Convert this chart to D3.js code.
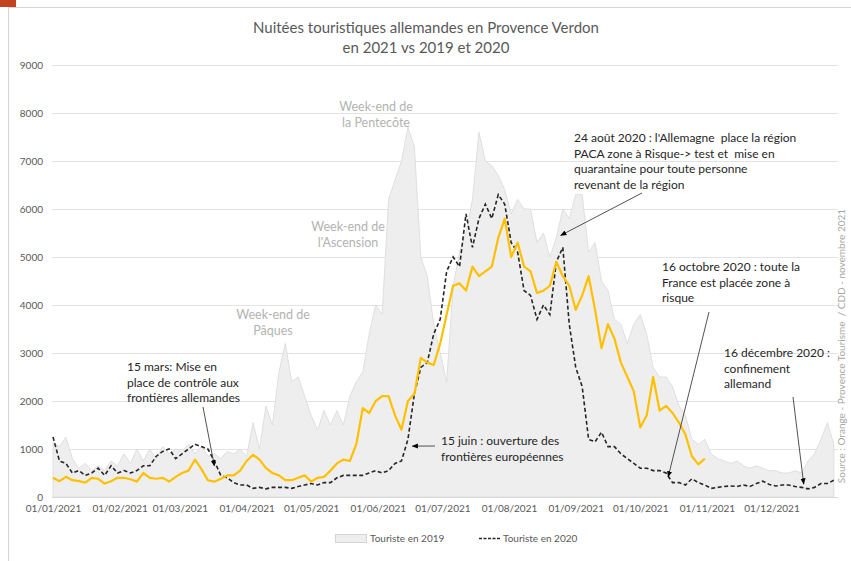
<!DOCTYPE html>
<html lang="fr">
<head>
<meta charset="utf-8">
<title>Nuitées touristiques allemandes en Provence Verdon</title>
<script src="https://cdn.jsdelivr.net/npm/d3@7"></script>
<style>
  body { margin: 0; background: #fff; }
  svg { display: block; font-family: Lato, "Open Sans", sans-serif; }
</style>
</head>
<body>
<div id="chart"></div>
<script>
// un point tous les 3 jours depuis le 01/01/2021
var dayOffsets = d3.range(0, 364, 3)

var touriste2019 = [1150, 1050, 1250, 800, 600, 700, 550, 650, 550, 750,
    650, 900, 700, 1000, 750, 1000, 800, 1050, 900, 1000,
    950, 1100, 900, 1050, 850, 900, 800, 950, 900, 1000,
    850, 1550, 1000, 1900, 1500, 2600, 3200, 2400, 2500, 2100,
    1700, 1400, 1800, 1500, 1800, 1500, 2100, 2400, 2600, 3400,
    4000, 3800, 6200, 6600, 7000, 7700, 7300, 5000, 4600, 3600,
    3000, 2400, 4400, 5100, 5500, 6200, 7600, 7000, 6900, 6700,
    6400, 5900, 6200, 6000, 6000, 5300, 5500, 5000, 5400, 6000,
    5800, 6300, 6300, 5100, 5300, 4500, 4300, 3700, 3600, 3200,
    3600, 3800, 3400, 2700, 2500, 2500, 2300, 1900, 1700, 1200,
    1100, 1200, 900, 800, 750, 700, 750, 650, 600, 650,
    600, 550, 550, 500, 500, 550, 500, 750, 900, 1200,
    1550, 1100]

var touriste2020 = [1250, 750, 700, 500, 550, 450, 500, 600, 450, 650,
    500, 550, 500, 550, 650, 650, 850, 950, 1000, 800,
    900, 1000, 1100, 1050, 1000, 750, 450, 400, 300, 250,
    250, 180, 200, 170, 200, 200, 200, 180, 220, 250,
    280, 250, 300, 300, 400, 450, 450, 450, 450, 500,
    550, 500, 550, 700, 750, 1200, 2150, 2700, 2800, 3400,
    3700, 4700, 5000, 4800, 5900, 5200, 5800, 6100, 5800, 6300,
    6100, 5300, 5100, 4300, 4200, 3700, 4000, 3800, 4900, 5200,
    3600, 2700, 2300, 1200, 1150, 1350, 1050, 1050, 900, 800,
    700, 600, 600, 550, 550, 500, 300, 300, 250, 380,
    300, 250, 180, 200, 220, 230, 220, 250, 220, 280,
    330, 260, 230, 250, 250, 220, 200, 170, 200, 280,
    280, 350]

// 2021 : données jusqu'à fin octobre
var touriste2021 = [400, 330, 420, 350, 330, 300, 400, 380, 280, 330,
    400, 400, 370, 320, 500, 400, 380, 400, 320, 420,
    500, 550, 780, 580, 350, 320, 380, 450, 450, 550,
    750, 880, 780, 600, 500, 450, 350, 350, 400, 450,
    320, 400, 420, 550, 700, 780, 750, 1100, 1850, 1750,
    2000, 2100, 2100, 1700, 1400, 2000, 2150, 2900, 2800, 2750,
    3200, 3800, 4400, 4450, 4300, 4800, 4600, 4700, 4800, 5400,
    5800, 5000, 5300, 4800, 4700, 4250, 4300, 4400, 4900, 4600,
    4400, 3900, 4200, 4600, 3900, 3100, 3600, 3300, 2800, 2500,
    2200, 1450, 1700, 2500, 1800, 1900, 1750, 1550, 1300, 850,
    680, 800]

var yTicks = [0, 1000, 2000, 3000, 4000, 5000, 6000, 7000, 8000, 9000]

var width = 851
var height = 561
var start = new Date(2021, 0, 1)
var dates = dayOffsets.map(function(d) { return d3.timeDay.offset(start, d) })

var x = d3.scaleTime()
    .domain([start, new Date(2021, 11, 31)])
    .range([53, 836])
var y = d3.scaleLinear()
    .domain([0, 9000])
    .range([497, 65])

var svg = d3.select("#chart")
    .append("svg")
    .attr("width", width)
    .attr("height", height)

// cadre
svg.append("rect").attr("x", 0).attr("y", 0).attr("width", 16).attr("height", 7).attr("fill", "#c4431f")
svg.append("path").attr("d", "M8.5,561V7.5H851").attr("fill", "none").attr("stroke", "#d4d4d4")

// titre
svg.append("text").attr("x", 426).attr("y", 33).attr("text-anchor", "middle")
    .style("font-size", "15px").attr("fill", "#595959")
    .text("Nuitées touristiques allemandes en Provence Verdon")
svg.append("text").attr("x", 426).attr("y", 53).attr("text-anchor", "middle")
    .style("font-size", "15px").attr("fill", "#595959")
    .text("en 2021 vs 2019 et 2020")

// grille et axe Y
svg.append("g")
    .selectAll("line")
    .data(yTicks)
    .enter()
    .append("line")
    .attr("x1", 52).attr("x2", 838)
    .attr("y1", function(d) { return Math.round(y(d)) + 0.5 })
    .attr("y2", function(d) { return Math.round(y(d)) + 0.5 })
    .attr("stroke", "#e3e3e3")

svg.append("g")
    .selectAll("text")
    .data(yTicks)
    .enter()
    .append("text")
    .attr("x", 43)
    .attr("y", function(d) { return y(d) + 3.5 })
    .attr("text-anchor", "end")
    .style("font-size", "10px")
    .attr("fill", "#595959")
    .text(function(d) { return d })

// 2019 en aire grise
var area = d3.area()
    .x(function(d, i) { return x(dates[i]) })
    .y0(y(0))
    .y1(function(d) { return y(d) })
svg.append("path")
    .datum(touriste2019)
    .attr("d", area)
    .attr("fill", "#eeeeee")
    .attr("stroke", "#d9d9d9")
    .attr("stroke-width", 0.8)

// axe X
var xAxis = d3.axisBottom(x)
    .ticks(d3.timeMonth.every(1))
    .tickFormat(d3.timeFormat("%d/%m/%Y"))
    .tickSize(0)
    .tickPadding(8)
var gx = svg.append("g").attr("transform", "translate(0,497)").call(xAxis)
gx.select(".domain").attr("stroke", "#d9d9d9").attr("d", "M52,0.5H838")
gx.selectAll("text").style("font-size", "10px").attr("fill", "#595959")
    .style("font-family", "Lato, 'Open Sans', sans-serif")

var line = d3.line()
    .x(function(d, i) { return x(dates[i]) })
    .y(function(d) { return y(d) })

svg.append("path")
    .datum(touriste2020)
    .attr("d", line)
    .attr("fill", "none")
    .attr("stroke", "#262626")
    .attr("stroke-width", 1.6)
    .attr("stroke-dasharray", "4,2.5")

svg.append("path")
    .datum(touriste2021)
    .attr("d", line)
    .attr("fill", "none")
    .attr("stroke", "#ffc000")
    .attr("stroke-width", 2.2)
    .attr("stroke-linejoin", "round")

// libellés des week-ends (gris)
var weekends = [
    { x: 273, y: 319, lines: ["Week-end de", "Pâques"] },
    { x: 348, y: 231, lines: ["Week-end de", "l'Ascension"] },
    { x: 376, y: 111, lines: ["Week-end de", "la Pentecôte"] }
]
weekends.forEach(function(w) {
    var t = svg.append("text").attr("text-anchor", "middle")
        .style("font-size", "12.5px").attr("fill", "#b3b3b3")
    w.lines.forEach(function(l, i) {
        t.append("tspan").attr("x", w.x).attr("y", w.y + i * 16).text(l)
    })
})

// annotations avec flèches
svg.append("defs").append("marker")
    .attr("id", "head")
    .attr("viewBox", "0 0 10 10")
    .attr("refX", 9).attr("refY", 5)
    .attr("markerWidth", 7).attr("markerHeight", 7)
    .attr("orient", "auto")
    .append("path").attr("d", "M0,1L10,5L0,9Z").attr("fill", "#000")

var notes = [
    { x: 127, y: 371, lines: ["15 mars: Mise en", "place de contrôle aux", "frontières allemandes"],
        from: [203, 407], to: [x(new Date(2021, 2, 17)), y(650)] },
    { x: 441, y: 445, lines: ["15 juin : ouverture des", "frontières européennes"],
        from: [435, 446], to: [x(new Date(2021, 5, 17)), y(1060)] },
    { x: 574, y: 142, lines: ["24 août 2020 : l'Allemagne  place la région", "PACA zone à Risque-> test et  mise en", "quarantaine pour toute personne", "revenant de la région"],
        from: [642, 193], to: [x(new Date(2021, 7, 25)), y(5450)] },
    { x: 662, y: 271, lines: ["16 octobre 2020 : toute la", "France est placée zone à", "risque"],
        from: [709, 312], to: [x(new Date(2021, 9, 14)), y(420)] },
    { x: 724, y: 357, lines: ["16 décembre 2020 :", "confinement", "allemand"],
        from: [793, 397], to: [x(new Date(2021, 11, 16)), y(270)] }
]
notes.forEach(function(n) {
    var t = svg.append("text").style("font-size", "12px").style("white-space", "pre")
        .attr("fill", "#262626")
    n.lines.forEach(function(l, i) {
        t.append("tspan").attr("x", n.x).attr("y", n.y + i * 15.5).text(l)
    })
    svg.append("line")
        .attr("x1", n.from[0]).attr("y1", n.from[1])
        .attr("x2", n.to[0]).attr("y2", n.to[1])
        .attr("stroke", "#404040").attr("stroke-width", 0.9)
        .attr("marker-end", "url(#head)")
})

// source
svg.append("text")
    .attr("transform", "translate(845,346) rotate(-90)")
    .attr("text-anchor", "middle")
    .style("font-size", "10px")
    .style("white-space", "pre")
    .attr("fill", "#a6a6a6")
    .text("Source : Orange - Provence Tourisme  / CDD - novembre 2021")

// légende
svg.append("rect").attr("x", 335.5).attr("y", 534.5).attr("width", 31).attr("height", 8)
    .attr("fill", "#eeeeee").attr("stroke", "#d4d4d4")
svg.append("text").attr("x", 370).attr("y", 542).style("font-size", "10px").attr("fill", "#595959")
    .text("Touriste en 2019")
svg.append("line").attr("x1", 479).attr("x2", 501).attr("y1", 538.5).attr("y2", 538.5)
    .attr("stroke", "#262626").attr("stroke-width", 1.6).attr("stroke-dasharray", "3,1.5")
svg.append("text").attr("x", 503).attr("y", 542).style("font-size", "10px").attr("fill", "#595959")
    .text("Touriste en 2020")
</script>
</body>
</html>
